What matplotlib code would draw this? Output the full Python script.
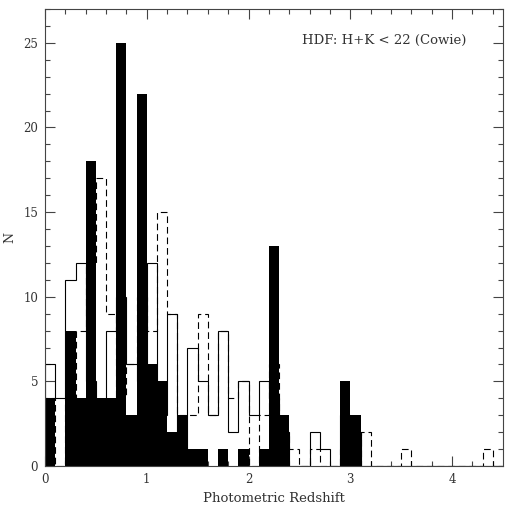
import numpy as np
import matplotlib
matplotlib.use("Agg")
import matplotlib.pyplot as plt
from matplotlib.ticker import MultipleLocator

# Bin edges: 0.0 .. 4.5 in steps of 0.1 (45 bins)
bin_edges = np.round(np.arange(0.0, 4.5 + 1e-9, 0.1), 2)

# Filled histogram (black bars)
filled = [4, 0, 8, 4, 18, 4, 4, 25, 3, 22,
          6, 5, 2, 3, 1, 1, 0, 1, 0, 1,
          0, 1, 13, 3, 0, 0, 0, 0, 0, 5,
          3, 0, 0, 0, 0, 0, 0, 0, 0, 0,
          0, 0, 0, 0, 0]

# Solid-outline histogram
solid = [6, 4, 11, 12, 5, 3, 8, 10, 6, 5,
         12, 3, 9, 1, 7, 5, 3, 8, 2, 5,
         3, 5, 4, 2, 0, 0, 2, 1, 0, 3,
         2, 0, 0, 0, 0, 0, 0, 0, 0, 0,
         0, 0, 0, 0, 0]

# Dashed-outline histogram
dashed = [4, 0, 4, 8, 12, 17, 9, 4, 6, 10,
          8, 15, 9, 3, 3, 9, 3, 8, 4, 5,
          0, 3, 6, 2, 1, 0, 1, 0, 0, 1,
          0, 2, 0, 0, 0, 1, 0, 0, 0, 0,
          0, 0, 0, 1, 0]

x_ticks = [0, 1, 2, 3, 4]
y_ticks = [0, 5, 10, 15, 20, 25]

fig = plt.figure(figsize=(5.14, 5.08), dpi=100)
ax = fig.add_axes([45 / 514, 42 / 508, 458 / 514, 457 / 508])

txt_color = "#333333"
font = "DejaVu Serif"

ax.stairs(solid, bin_edges, baseline=0, color="black", linewidth=0.8,
          zorder=2)
ax.stairs(dashed, bin_edges, baseline=0, color="black", linewidth=0.8,
          linestyle=(0, (6, 3.5)), zorder=2)
ax.stairs(filled, bin_edges, baseline=0, fill=True, color="black",
          linewidth=0, zorder=3)

ax.set_xlim(0, 4.5)
ax.set_ylim(0, 27)
ax.set_xticks(x_ticks)
ax.set_yticks(y_ticks)
ax.xaxis.set_minor_locator(MultipleLocator(0.2))
ax.yaxis.set_minor_locator(MultipleLocator(1))
ax.tick_params(which="both", direction="in", top=True, right=True,
               colors="#444444", labelcolor=txt_color, width=0.8)
ax.tick_params(which="major", length=7, labelsize=8.5, pad=5)
ax.tick_params(which="minor", length=3.5)
for lab in ax.get_xticklabels() + ax.get_yticklabels():
    lab.set_family(font)
for sp in ax.spines.values():
    sp.set_color("#444444")
    sp.set_linewidth(0.8)
    sp.set_zorder(4)

ax.set_xlabel("Photometric Redshift", family=font, fontsize=9.5,
              color=txt_color, labelpad=4)
ax.set_ylabel("N", family=font, fontsize=9, color=txt_color, labelpad=5)

ax.text(2.53, 25.15, "HDF: H+K < 22 (Cowie)", family=font, fontsize=9.5,
        color=txt_color, ha="left", va="center")

fig.savefig("out.png", dpi=100)
